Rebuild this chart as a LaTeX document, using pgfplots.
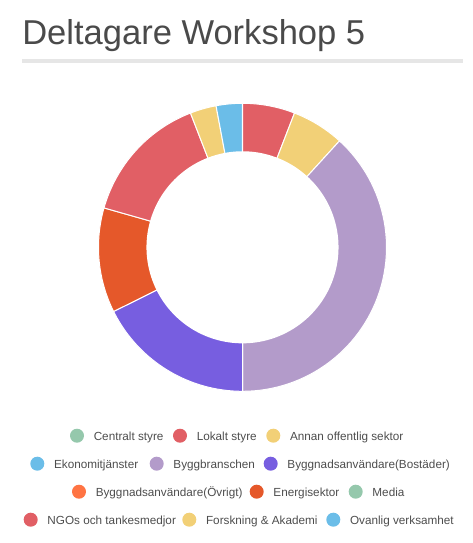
\documentclass[border=0pt]{standalone}
\usepackage{pgfplots}
\pgfplotsset{compat=1.18}
\usepackage{fontspec}
\setmainfont{Liberation Sans}
\definecolor{cgreen}{HTML}{95C8AC}
\definecolor{cred}{HTML}{E15F65}
\definecolor{cyellow}{HTML}{F2D077}
\definecolor{cblue}{HTML}{6BBDE8}
\definecolor{clpurple}{HTML}{B39BCA}
\definecolor{cpurple}{HTML}{775EE0}
\definecolor{corange}{HTML}{FF7443}
\definecolor{cenergy}{HTML}{E5582A}
\definecolor{ctitle}{HTML}{4A4A4A}
\definecolor{ctext}{HTML}{4D4D4D}
\definecolor{crule}{HTML}{E6E6E6}
% slice: start (units), count (units), colour; total = 34 participants
\newcommand{\slice}[3]{%
  \addplot[fill=#3, draw=white, line width=0.75pt, domain={(#1)*360/34}:{(#1+#2)*360/34}, samples=60, variable=\t]
    ({sin(t)},{cos(t)}) -- (0,0) -- cycle;
}
\newcommand{\legitem}[4]{% x of marker, y row, colour, text
  \fill[#3] (#1,-#2) circle[radius=7];
  \node[anchor=base west, inner sep=0pt, text=ctext, font=\fontsize{8.8pt}{10pt}\selectfont] at (#1+16.5,-#2-4.3) {#4};
}
\begin{document}
\begin{tikzpicture}
\begin{scope}[x=0.75pt,y=0.75pt]
\path[use as bounding box] (0,0) rectangle (473,-543);
\node[anchor=base west, inner sep=0pt, text=ctitle, font=\fontsize{25.9pt}{30pt}\selectfont] at (22,-44) {Deltagare Workshop 5};
\fill[crule] (22,-59) rectangle (463,-63);
\legitem{77}{435.7}{cgreen}{Centralt styre}
\legitem{180}{435.7}{cred}{Lokalt styre}
\legitem{273.3}{435.7}{cyellow}{Annan offentlig sektor}
\legitem{37.3}{463.7}{cblue}{Ekonomitjänster}
\legitem{156.7}{463.7}{clpurple}{Byggbranschen}
\legitem{270.7}{463.7}{cpurple}{Byggnadsanvändare(Bostäder)}
\legitem{79}{491.7}{corange}{Byggnadsanvändare(Övrigt)}
\legitem{256.7}{491.7}{cenergy}{Energisektor}
\legitem{355.7}{491.7}{cgreen}{Media}
\legitem{30.7}{519.7}{cred}{NGOs och tankesmedjor}
\legitem{189.3}{519.7}{cyellow}{Forskning \& Akademi}
\legitem{333.3}{519.7}{cblue}{Ovanlig verksamhet}
\end{scope}
\begin{axis}[
  at={(181.875pt,-185.475pt)}, anchor=center,
  scale only axis, width=216pt, height=216pt,
  xmin=-1, xmax=1, ymin=-1, ymax=1,
  hide axis, clip=false,
]
\slice{0}{2}{cred}       % Lokalt styre
\slice{2}{2}{cyellow}    % Annan offentlig sektor
\slice{4}{13}{clpurple}  % Byggbranschen
\slice{17}{6}{cpurple}   % Byggnadsanvändare(Bostäder)
\slice{23}{4}{cenergy}   % Energisektor
\slice{27}{5}{cred}      % NGOs och tankesmedjor
\slice{32}{1}{cyellow}   % Forskning & Akademi
\slice{33}{1}{cblue}     % Ovanlig verksamhet
\addplot[fill=white, draw=none, domain=0:360, samples=150, variable=\t] ({0.667*cos(t)},{0.667*sin(t)});
\end{axis}
\end{tikzpicture}
\end{document}
